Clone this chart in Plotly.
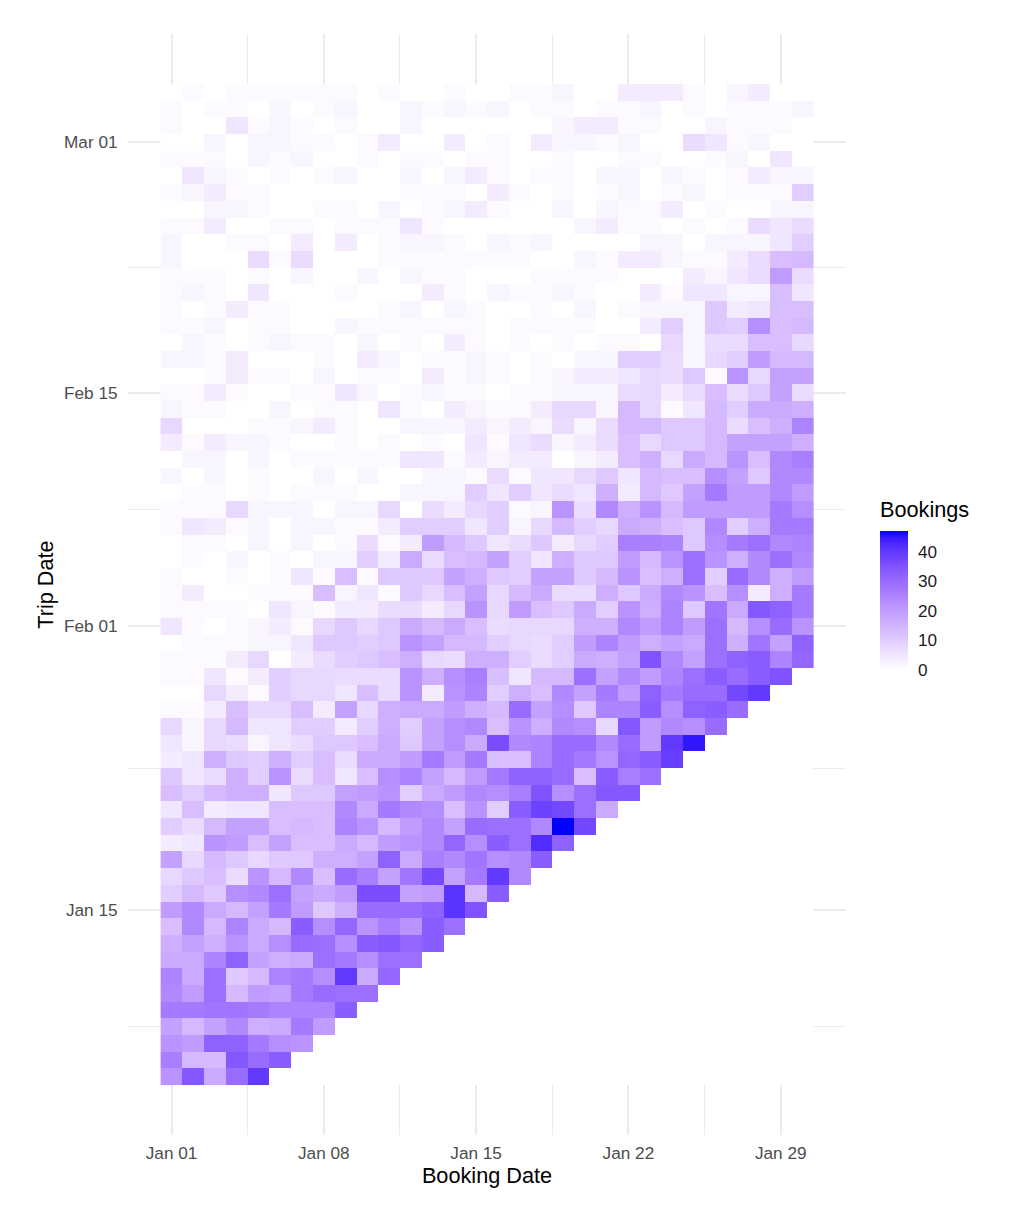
import numpy as np
import pandas as pd
import plotly.graph_objects as go

# Bookings per cell: rows run from the latest trip date (top) to the earliest,
# columns from the first booking date onward. Cells after a trip date are absent.
booking_dates = pd.date_range("2016-01-01", "2016-01-30", freq="D")
trip_dates = pd.date_range("2016-01-05", periods=60, freq="D")[::-1]

bookings = [
 [0,1,0,1,1,1,1,1,1,0,1,0,0,1,0, 0,1,1,2,0,0,4,4,4,1,0,2,4,0,0],
 [1,0,1,1,0,2,0,1,2,0,0,2,1,2,1, 2,0,1,1,0,1,1,2,0,1,0,1,1,1,2],
 [1,0,0,5,1,2,1,0,1,0,0,2,0,0,0, 0,0,0,2,4,4,1,1,0,0,2,1,1,1,0],
 [0,0,2,0,2,2,1,1,0,1,4,0,0,4,0, 1,0,4,2,2,1,2,0,0,7,5,1,2,0,0],
 [1,1,1,0,2,1,2,0,0,1,0,1,1,0,1, 1,0,0,1,0,0,1,1,0,0,1,2,0,5,0],
 [0,5,2,1,0,1,0,1,2,0,0,2,0,2,4, 1,0,1,1,0,2,2,0,2,1,0,1,4,2,2],
 [1,2,4,1,1,0,0,0,0,0,0,1,1,1,0, 4,1,0,1,0,1,2,0,1,2,0,1,1,1,10],
 [0,0,2,2,1,0,0,1,1,0,2,0,1,2,4, 1,0,0,2,0,2,1,1,4,0,1,0,0,2,2],
 [1,1,4,0,0,1,1,0,1,1,1,5,1,0,0, 0,0,0,0,2,4,1,1,0,1,0,1,7,5,7],
 [2,0,0,1,1,0,4,0,4,0,1,2,2,1,0, 2,1,2,0,0,0,0,2,2,0,2,2,2,5,10],
 [2,0,0,0,7,1,7,0,0,0,1,1,1,1,1, 1,1,0,0,2,1,4,4,2,1,1,4,7,13,14],
 [1,1,1,0,1,0,2,0,0,2,0,2,1,1,0, 0,0,1,1,1,1,0,0,0,4,2,5,7,20,7],
 [1,2,1,0,5,0,0,0,1,0,0,0,4,1,0, 2,1,1,2,1,0,0,4,1,5,5,2,2,13,5],
 [1,0,1,4,1,1,0,0,0,0,1,2,0,2,1, 0,0,1,0,2,0,1,2,2,2,11,4,5,13,13],
 [1,1,2,0,1,1,0,0,2,1,1,1,1,1,1, 0,1,1,1,1,0,0,4,10,2,11,10,23,13,14],
 [0,2,1,0,1,2,1,1,0,2,0,1,0,4,1, 0,1,0,1,0,1,1,0,8,2,7,7,13,13,8],
 [2,2,1,4,0,0,0,1,0,4,2,0,1,1,2, 1,0,1,0,2,2,10,10,7,2,8,10,20,14,14],
 [0,0,1,4,1,1,0,2,0,1,1,0,4,1,2, 1,0,1,2,4,4,5,8,7,11,1,22,8,19,19],
 [1,1,4,1,0,0,1,1,5,2,0,1,2,1,1, 0,1,1,2,2,2,7,8,4,7,13,7,11,19,7],
 [2,1,1,0,0,2,0,1,1,0,5,1,0,4,2, 1,1,4,8,8,2,14,8,1,5,14,10,17,17,16],
 [8,0,0,0,1,1,2,4,1,0,0,2,2,2,4, 2,4,2,7,2,7,14,14,11,11,14,7,13,16,25],
 [4,1,4,2,2,1,0,0,1,0,1,0,1,0,5, 1,5,7,2,4,7,13,8,11,11,14,19,19,19,16],
 [0,2,2,0,2,0,1,1,1,1,1,5,5,1,4, 2,4,4,0,2,4,13,16,8,17,14,22,13,24,26],
 [2,0,2,0,1,0,0,2,0,2,0,0,2,2,1, 7,1,5,5,8,11,5,14,13,13,23,19,11,24,24],
 [0,1,1,0,1,0,1,1,1,0,0,2,2,2,10, 5,10,5,7,5,16,4,14,11,19,27,20,20,24,20],
 [1,1,1,8,2,2,2,0,2,2,8,0,7,4,8, 10,1,2,22,7,24,16,22,14,20,20,20,20,27,23],
 [1,5,4,1,2,0,2,2,1,1,4,10,10,10,5, 10,2,8,14,10,8,17,16,13,11,24,10,16,27,27],
 [0,1,1,0,2,0,2,0,1,7,1,4,20,14,11, 5,7,11,4,8,10,26,26,25,11,23,27,29,24,25],
 [0,1,0,2,0,1,0,2,2,10,4,17,7,13,14, 19,10,5,16,11,11,20,14,22,29,22,16,24,29,24],
 [1,0,0,1,0,1,5,1,13,1,11,11,11,19,16, 11,10,19,19,11,14,22,13,16,29,10,30,24,16,20],
 [1,4,0,0,1,1,1,13,2,5,1,11,8,13,19, 8,14,17,7,7,16,11,17,24,22,13,23,4,16,27],
 [1,1,1,1,0,5,2,1,4,4,7,7,4,8,22, 8,20,13,11,17,10,22,16,25,11,28,17,34,32,27],
 [5,1,0,1,2,4,1,8,11,8,11,17,14,17,13, 7,8,8,8,16,16,24,20,25,20,29,14,23,30,22],
 [0,1,1,1,2,2,5,11,11,10,11,22,19,14,14, 10,8,7,10,20,25,20,16,19,17,29,16,28,19,32],
 [1,1,1,4,8,0,4,7,10,11,13,16,8,7,16, 16,10,7,10,17,16,19,35,24,19,29,32,33,25,31],
 [1,1,5,1,4,10,8,8,7,7,7,22,16,23,26, 13,5,14,14,29,19,24,20,25,29,33,30,33,35],
 [0,0,8,4,1,10,8,8,5,13,7,22,4,22,25, 10,16,13,24,19,27,20,32,27,30,30,37,40],
 [1,1,4,13,8,8,13,4,19,8,16,17,17,20,16, 14,30,19,23,11,25,25,33,23,32,33,30],
 [8,2,8,14,5,5,10,10,4,10,16,10,19,23,24, 13,22,16,24,23,8,34,20,24,23,30],
 [5,2,8,7,2,5,7,11,11,13,17,11,19,23,17, 36,24,25,30,30,24,30,20,40,45],
 [4,5,16,11,10,16,10,13,7,17,17,20,27,20,27, 13,13,25,30,27,22,31,33,39],
 [11,5,7,16,10,22,7,13,5,13,23,25,19,14,20, 27,32,32,30,13,33,26,29],
 [13,10,14,16,16,5,11,11,19,20,22,10,17,20,24, 23,26,35,23,29,34,34],
 [5,13,4,5,5,13,13,13,24,17,27,24,23,13,22, 10,33,38,37,29,17],
 [10,7,14,19,19,13,14,13,25,22,14,20,24,19,30, 29,29,24,47,37],
 [4,5,22,20,13,19,13,13,17,14,20,22,24,31,23, 33,29,42,32],
 [19,8,14,11,8,11,11,16,16,19,32,17,26,24,28, 23,24,33],
 [8,11,13,7,22,14,24,13,30,26,19,28,37,19,27, 40,24],
 [10,14,11,23,24,29,19,17,20,36,36,19,20,41,14, 33],
 [20,24,17,14,19,27,20,11,16,30,30,30,32,41,35],
 [13,24,14,25,17,14,33,23,31,22,26,22,33,29],
 [16,19,16,22,17,23,30,29,23,33,34,31,33],
 [17,17,25,32,19,16,17,29,27,23,29,29],
 [25,17,29,11,14,25,27,23,40,17,31],
 [24,20,29,14,20,19,27,30,29,29],
 [27,27,28,28,27,25,25,25,33],
 [19,14,19,24,16,17,27,20],
 [22,20,32,32,27,23,22],
 [26,14,14,34,30,33],
 [22,34,17,30,40],
]

major_x = ["2016-01-01", "2016-01-08", "2016-01-15", "2016-01-22", "2016-01-29"]
minor_x = ["2016-01-04 12:00", "2016-01-11 12:00", "2016-01-18 12:00", "2016-01-25 12:00"]
major_y = ["2016-01-15", "2016-02-01", "2016-02-15", "2016-03-01"]
minor_y = ["2016-01-08", "2016-01-23 12:00", "2016-02-08", "2016-02-22 12:00"]
bar_ticks = [0, 10, 20, 30, 40]


def _to_lab(rgb):
    c = np.array(rgb) / 255.0
    c = np.where(c > 0.04045, ((c + 0.055) / 1.055) ** 2.4, c / 12.92)
    m = np.array([[0.4124, 0.3576, 0.1805], [0.2126, 0.7152, 0.0722], [0.0193, 0.1192, 0.9505]])
    xyz = m @ c / np.array([0.95047, 1.0, 1.08883])
    f = np.where(xyz > 0.008856, np.cbrt(xyz), 7.787 * xyz + 16 / 116)
    return np.array([116 * f[1] - 16, 500 * (f[0] - f[1]), 200 * (f[1] - f[2])])


def _from_lab(lab):
    fy = (lab[0] + 16) / 116
    f = np.array([fy + lab[1] / 500, fy, fy - lab[2] / 200])
    xyz = np.where(f ** 3 > 0.008856, f ** 3, (f - 16 / 116) / 7.787) * np.array([0.95047, 1.0, 1.08883])
    m = np.array([[3.2406, -1.5372, -0.4986], [-0.9689, 1.8758, 0.0415], [0.0557, -0.2040, 1.0570]])
    c = np.clip(m @ xyz, 0, 1)
    c = np.where(c > 0.0031308, 1.055 * c ** (1 / 2.4) - 0.055, 12.92 * c)
    r, g, b = np.round(c * 255).astype(int)
    return f"rgb({r},{g},{b})"


low, high = _to_lab([255, 255, 255]), _to_lab([0, 0, 255])
colorscale = [[t, _from_lab(low + (high - low) * t)] for t in np.linspace(0, 1, 21)]

z = [row + [0] * (len(booking_dates) - len(row)) for row in bookings][::-1]
y = list(trip_dates[::-1])

FONT = "Liberation Sans"
fig = go.Figure(go.Heatmap(
    x=booking_dates, y=y, z=z, zmin=0, zmax=47, colorscale=colorscale,
    colorbar=dict(
        tickmode="array", tickvals=bar_ticks, ticks="outside", ticklen=7, tickcolor="rgba(255,255,255,0)",
        tickwidth=1, tickfont=dict(family=FONT, size=17.2, color="#1a1a1a"),
        thickness=28, thicknessmode="pixels", len=139, lenmode="pixels",
        x=1.0474, xanchor="left", y=0.4855, yanchor="middle", xpad=0, ypad=0,
        outlinewidth=0, borderwidth=0,
    ),
))

axis_common = dict(
    type="date", tickformat="%b %d", tickmode="array", showgrid=True, gridcolor="#EBEBEB", gridwidth=2,
    zeroline=False, showline=False, ticks="outside", tickcolor="rgba(0,0,0,0)",
    tickfont=dict(family=FONT, size=17.2, color="#4D4D4D"),
)
fig.update_xaxes(
    **axis_common, ticklen=2, tickvals=major_x, range=["2015-12-30 00:00", "2016-02-01 00:00"],
    title=dict(text="Booking Date", font=dict(family=FONT, size=21.7, color="#000000"), standoff=6),
    minor=dict(tickmode="array", tickvals=minor_x, showgrid=True, gridcolor="#EBEBEB", gridwidth=1),
)
fig.update_yaxes(
    **axis_common, ticklen=6, tickvals=major_y, range=["2016-01-01 12:00", "2016-03-07 12:00"],
    title=dict(text="Trip Date", font=dict(family=FONT, size=21.7, color="#000000"), standoff=4),
    minor=dict(tickmode="array", tickvals=minor_y, showgrid=True, gridcolor="#EBEBEB", gridwidth=1),
)
# The page adds an 8px body margin, so the figure is 16px smaller than the window.
fig.update_layout(
    width=1008, height=1192, margin=dict(l=120, r=170, t=26, b=65, autoexpand=False),
    paper_bgcolor="white", plot_bgcolor="white",
    annotations=[dict(
        text="Bookings", xref="paper", yref="paper", x=1.0474, y=0.5680, xanchor="left", yanchor="middle",
        showarrow=False, xshift=-2, font=dict(family=FONT, size=21.7, color="#000000"),
    )],
)
fig.write_html("out.html")
